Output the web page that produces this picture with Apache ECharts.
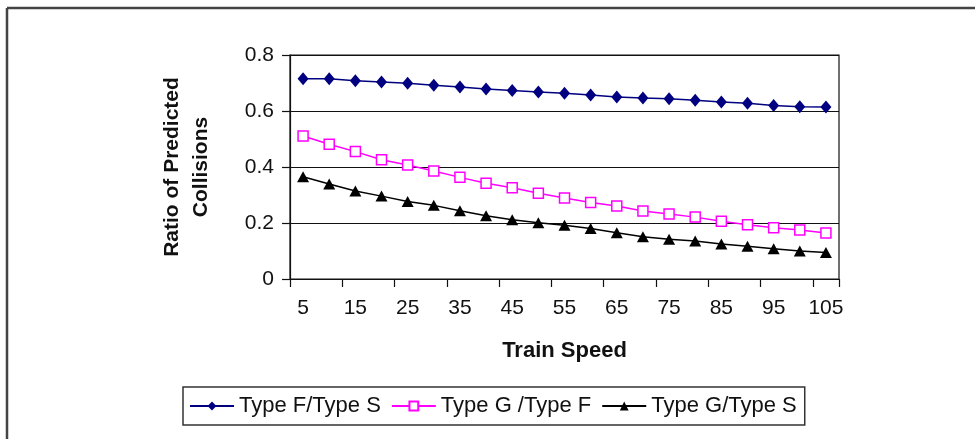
<!DOCTYPE html>
<html>
<head>
<meta charset="utf-8">
<script src="https://cdn.jsdelivr.net/npm/echarts@6/dist/echarts.min.js"></script>
<style>
html,body{margin:0;padding:0;background:#fff;}
#main{width:975px;height:439px;}
</style>
</head>
<body>
<div id="main"></div>
<script>
var speeds = ['5','10','15','20','25','30','35','40','45','50','55','60','65','70','75','80','85','90','95','100','105'];
var typeFS = [0.715,0.715,0.708,0.704,0.699,0.692,0.686,0.679,0.673,0.668,0.663,0.657,0.650,0.646,0.644,0.638,0.632,0.628,0.620,0.615,0.614];
var typeGF = [0.511,0.481,0.455,0.426,0.407,0.386,0.363,0.342,0.326,0.306,0.289,0.273,0.261,0.243,0.232,0.221,0.206,0.194,0.183,0.175,0.164];
var typeGS = [0.365,0.339,0.314,0.296,0.277,0.263,0.244,0.226,0.212,0.201,0.192,0.180,0.165,0.151,0.142,0.136,0.125,0.117,0.108,0.100,0.095];
var seriesNames = ['Type F/Type S','Type G /Type F','Type G/Type S'];
var yTicks = [0, 0.2, 0.4, 0.6, 0.8];

var FONT = "'Liberation Sans', Arial, sans-serif";
var chart = echarts.init(document.getElementById('main'), null, {renderer:'canvas'});
chart.setOption({
  animation:false,
  backgroundColor:'#fff',
  textStyle:{fontFamily:FONT},
  graphic:[
    {type:'line', shape:{x1:7,y1:8,x2:975,y2:8}, style:{stroke:'#444',lineWidth:2.5}},
    {type:'line', shape:{x1:7,y1:8,x2:7,y2:439}, style:{stroke:'#444',lineWidth:2.5}}
  ],
  grid:{left:290,right:136,top:55,bottom:160,show:true,borderColor:'#111',borderWidth:1.2,containLabel:false},
  legend:{
    left:183, top:387,
    padding:[8,8,8,6],
    borderColor:'#333', borderWidth:1.5,
    itemWidth:44, itemHeight:11, itemGap:10,
    textStyle:{fontFamily:FONT,fontSize:22,color:'#111'},
    data:seriesNames
  },
  xAxis:{
    type:'category', data:speeds, boundaryGap:true,
    name:'Train Speed', nameLocation:'middle', nameGap:61,
    nameTextStyle:{fontFamily:FONT,fontSize:22,fontWeight:'bold',color:'#111'},
    axisLine:{lineStyle:{color:'#111',width:1.2}},
    axisTick:{show:true,interval:1,length:8,lineStyle:{color:'#111',width:1.2}},
    axisLabel:{interval:1,margin:19,fontFamily:FONT,fontSize:21,color:'#111'},
    splitLine:{show:false}
  },
  yAxis:{
    type:'value', min:yTicks[0], max:yTicks[yTicks.length-1], interval:0.2,
    name:'Ratio of Predicted\nCollisions', nameLocation:'middle', nameGap:74, nameRotate:90,
    nameTextStyle:{fontFamily:FONT,fontSize:21,fontWeight:'bold',color:'#111',lineHeight:29},
    axisLine:{show:true,lineStyle:{color:'#111',width:1.2}},
    axisTick:{show:true,length:8,lineStyle:{color:'#111',width:1.2}},
    axisLabel:{margin:16,fontFamily:FONT,fontSize:21,color:'#111',formatter:function(v){return String(Math.round(v*10)/10);}},
    splitLine:{show:true,lineStyle:{color:'#111',width:1.2}}
  },
  series:[
    {name:seriesNames[0], type:'line', data:typeFS, symbol:'diamond', symbolSize:[11,13],
     lineStyle:{color:'#000080',width:1.5}, itemStyle:{color:'#000080'}},
    {name:seriesNames[1], type:'line', data:typeGF, symbol:'rect', symbolSize:10,
     lineStyle:{color:'#ff00ff',width:1.5}, itemStyle:{color:'#fff',borderColor:'#ff00ff',borderWidth:1.5}},
    {name:seriesNames[2], type:'line', data:typeGS, symbol:'triangle', symbolSize:[12,11],
     lineStyle:{color:'#000',width:1.5}, itemStyle:{color:'#000'}}
  ]
});
</script>
</body>
</html>
